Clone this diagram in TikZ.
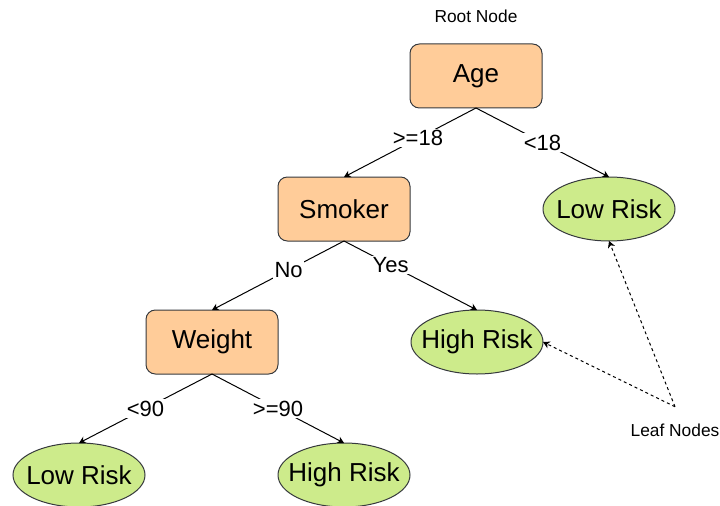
\documentclass[tikz,border=0pt]{standalone}
\usepackage{fontspec}
\setmainfont{Liberation Sans}
\usepackage{xcolor}
\usetikzlibrary{positioning, arrows.meta, shapes.geometric}

\definecolor{testorange}{HTML}{FFCC99}
\definecolor{leafgreen}{HTML}{CDEB8B}
\definecolor{edgegray}{HTML}{36393D}

\begin{document}
\begin{tikzpicture}[
    x=0.75pt, y=-0.75pt,
    node distance=51.75pt,
    test/.style={rectangle, draw=edgegray, fill=testorange, line width=0.75pt, rounded corners=7pt, minimum width=99pt, minimum height=48pt, outer sep=0pt, font=\fontsize{19.5}{22}\selectfont},
    outcome/.style={ellipse, draw=edgegray, fill=leafgreen, line width=0.75pt, minimum width=99pt, minimum height=48pt, inner xsep=-8pt, outer sep=0pt, font=\fontsize{19.5}{22}\selectfont},
    note/.style={font=\fontsize{13}{15}\selectfont, inner sep=0pt},
    cond/.style={fill=white, inner sep=1pt, font=\fontsize{16.5}{18}\selectfont},
    branch/.style={-{Stealth[length=5pt, width=5.5pt, inset=1.5pt]}, line width=0.75pt},
    pointer/.style={-{Stealth[length=5pt, width=5.5pt, inset=1.5pt]}, line width=0.75pt, dash pattern=on 2.25pt off 2.25pt}
]
\useasboundingbox (0,0) rectangle (720,506);

\node[test] (age) at (476,76) {Age};
\node[note] (rootlbl) at (476,16) {Root Node};

\node[test, below=of age, xshift=-99pt] (smoker) {Smoker};
\node[outcome, below=of age, xshift=99.75pt] (low1) {Low Risk};
\node[test, below=of smoker, xshift=-99pt] (weight) {Weight};
\node[outcome, below=of smoker, xshift=99.75pt] (high1) {High Risk};
\node[outcome, below=of weight, xshift=-99.75pt] (low2) {Low Risk};
\node[outcome, below=of weight, xshift=99pt] (high2) {High Risk};

\node[note, minimum height=34.5pt] (leafs) at (675,430) {Leaf Nodes};

\draw[branch] (age.south) -- node[cond, pos=0.44] {>=18} (smoker.north);
\draw[branch] (age.south) -- node[cond] {<18} (low1.north);
\draw[branch] (smoker.south) -- node[cond, pos=0.42] {No} (weight.north);
\draw[branch] (smoker.south) -- node[cond, pos=0.35] {Yes} (high1.north);
\draw[branch] (weight.south) -- node[cond] {<90} (low2.north);
\draw[branch] (weight.south) -- node[cond] {>=90} (high2.north);

\draw[pointer] (leafs.north) -- (low1.south);
\draw[pointer] (leafs.north) -- (high1.east);

\end{tikzpicture}
\end{document}
